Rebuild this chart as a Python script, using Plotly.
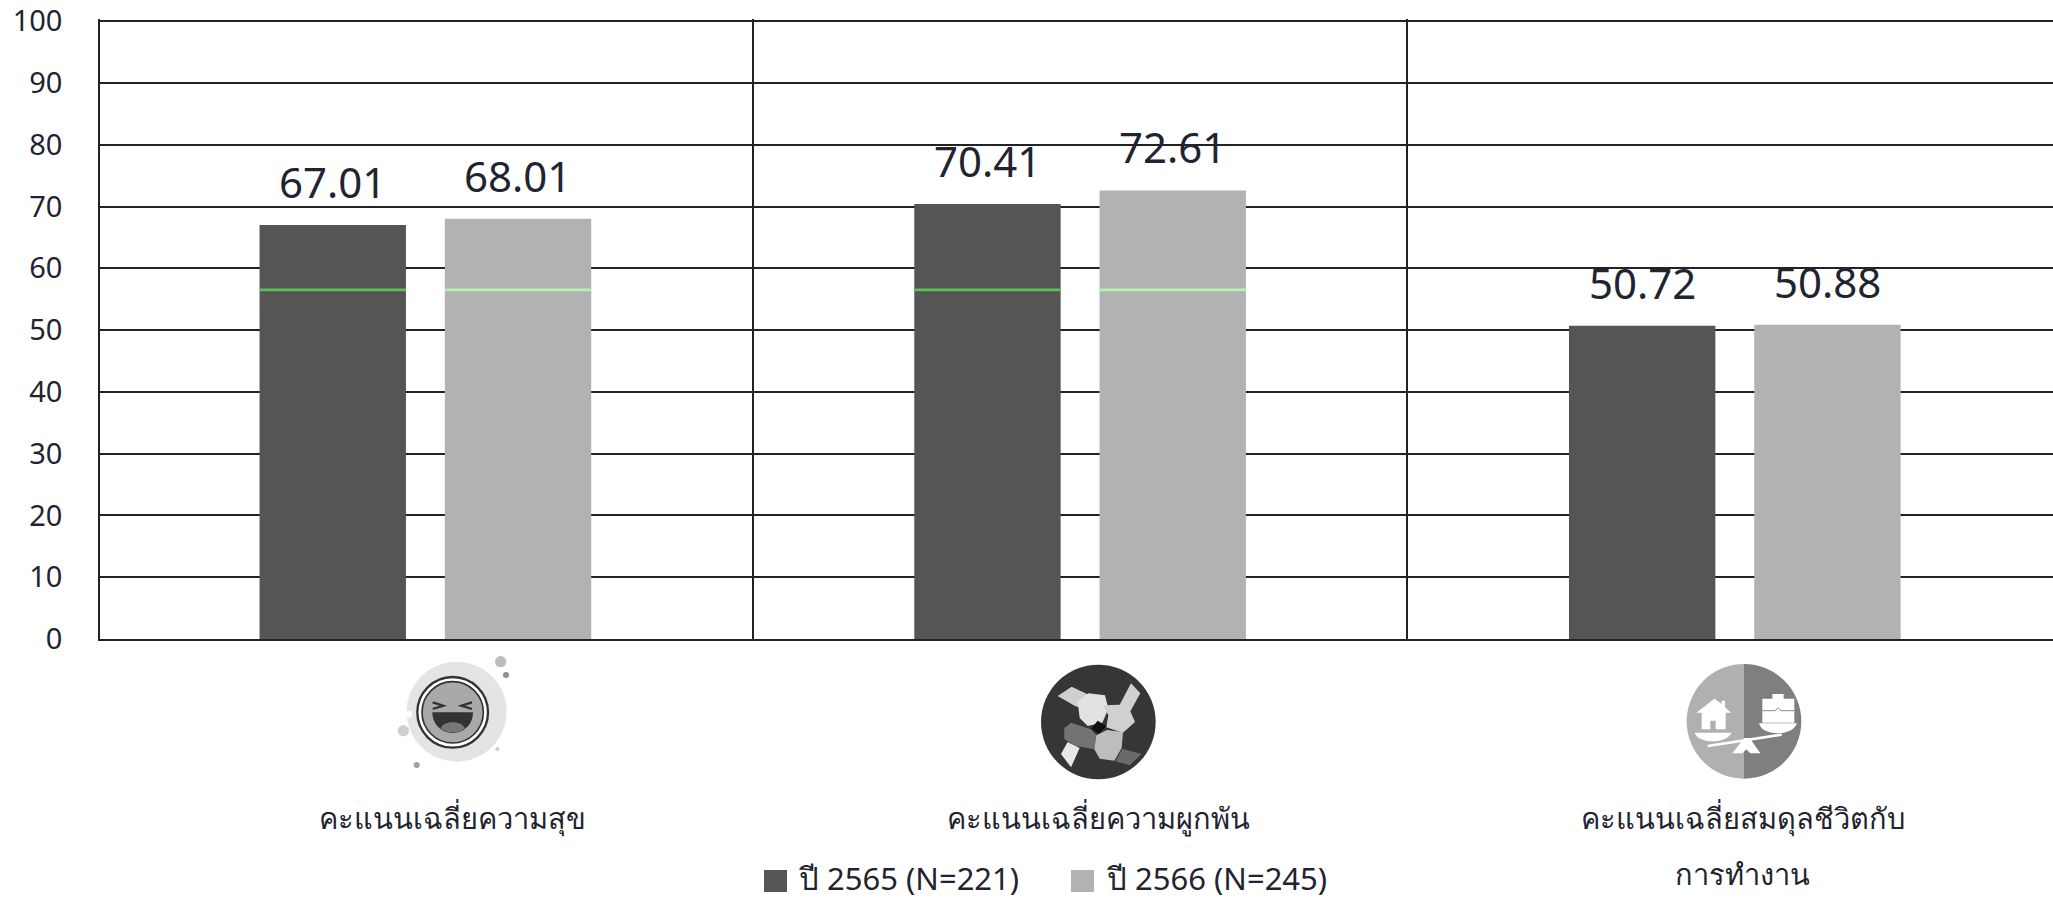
import base64
import plotly.graph_objects as go

# Survey scores by year
CATEGORIES = ["คะแนนเฉลี่ยความสุข", "คะแนนเฉลี่ยความผูกพัน", "คะแนนเฉลี่ยสมดุลชีวิตกับ"]
CATEGORY_SECOND_LINES = ["", "", "การทำงาน"]
LABEL_SHIFTS = [27, 18, 8]
SERIES_NAMES = ["ปี 2565 (N=221)", "ปี 2566 (N=245)"]
VALUES_2565 = [67.01, 70.41, 50.72]
VALUES_2566 = [68.01, 72.61, 50.88]
BENCHMARK = [56.5, 56.5, None]
Y_TICKS = [0, 10, 20, 30, 40, 50, 60, 70, 80, 90, 100]

DARK = "#555555"
LIGHT = "#b2b2b2"
INK = "#1f2430"
FONT = "Noto Sans, Tahoma, sans-serif"

# Plot frame in page pixels
W, H = 2053, 900
LEFT, TOP, BOTTOM = 100, 19, 639


def paper_x(px):
    return (px - LEFT) / (W - LEFT)


def paper_y(py):
    return (BOTTOM - py) / (BOTTOM - TOP)


def svg_uri(body, w, h):
    svg = f'<svg xmlns="http://www.w3.org/2000/svg" viewBox="0 0 {w} {h}" width="{w}" height="{h}">{body}</svg>'
    return "data:image/svg+xml;base64," + base64.b64encode(svg.encode()).decode()


LAUGH_ICON = """
<circle cx="230" cy="200" r="150" fill="#e4e4e4"/>
<circle cx="362" cy="50" r="17" fill="#bdbdbd"/><circle cx="378" cy="90" r="9" fill="#8f8f8f"/>
<circle cx="70" cy="257" r="17" fill="#cfcfcf"/><circle cx="110" cy="360" r="9" fill="#a0a0a0"/>
<circle cx="352" cy="312" r="6" fill="#cccccc"/><circle cx="85" cy="208" r="11" fill="#ffffff"/>
<circle cx="218" cy="202" r="106" fill="#ffffff" stroke="#333333" stroke-width="7"/>
<circle cx="218" cy="202" r="92" fill="#a9a9a9" stroke="#333333" stroke-width="5"/>
<path d="M158 172 L190 182 L158 192 M276 172 L244 182 L276 192" fill="none" stroke="#333333" stroke-width="7"/>
<path d="M157 202 H279 C279 240 250 264 218 264 C186 264 157 240 157 202 Z" fill="#333333"/>
<path d="M182 250 C190 226 246 226 254 250 C240 266 196 266 182 250 Z" fill="#777777"/>
"""

TEAM_ICON = """
<circle cx="202" cy="210" r="172" fill="#363636"/>
<path d="M80 132 L122 104 L176 130 L160 172 L132 162 Z" fill="#cfcfcf"/>
<path d="M140 148 L172 124 L222 130 L232 170 L214 212 L170 222 L146 198 Z" fill="#e2e2e2"/>
<path d="M216 160 L266 158 L300 94 L328 124 L298 178 L312 210 L276 242 L226 226 L232 190 Z" fill="#d0d0d0"/>
<path d="M200 206 L226 222 L204 246 L180 230 Z" fill="#111111"/>
<path d="M100 228 L120 212 L180 232 L196 250 L190 292 L136 282 L100 262 Z" fill="#737373"/>
<path d="M196 250 L228 234 L276 240 L272 288 L250 326 L206 320 L190 292 Z" fill="#bdbdbd"/>
<path d="M110 270 L146 288 L120 346 L90 306 Z" fill="#e8e8e8"/>
<path d="M274 290 L332 306 L296 340 L254 328 Z" fill="#6a6a6a"/>
"""

BALANCE_ICON = """
<clipPath id="c"><circle cx="207" cy="208" r="172"/></clipPath>
<g clip-path="url(#c)"><rect x="0" y="0" width="207" height="420" fill="#b0b0b0"/>
<rect x="207" y="0" width="213" height="420" fill="#7f7f7f"/></g>
<path d="M64 182 L118 140 L140 156 V146 H150 V166 L168 182 H152 V232 H122 V206 H106 V232 H80 V182 Z" fill="#ffffff"/>
<path d="M262 140 H292 V126 H326 V140 H358 V212 H262 Z" fill="#ffffff"/>
<path d="M262 176 H300 L310 168 L318 176 H358" fill="none" stroke="#8a8a8a" stroke-width="3"/>
<path d="M58 242 H170 C160 262 130 268 114 268 C90 268 66 260 58 242 Z" fill="#ffffff"/>
<path d="M252 214 H366 C358 236 330 244 310 244 C284 244 258 236 252 214 Z" fill="#ffffff"/>
<path d="M98 282 L320 248" stroke="#ffffff" stroke-width="8" fill="none"/>
<path d="M208 258 L224 258 L256 304 H226 L214 292 L202 304 H172 Z" fill="#ffffff"/>
"""

fig = go.Figure()

# Main bars, with a thin benchmark segment laid over each one
for name, values, colour, mark in (
    (SERIES_NAMES[0], VALUES_2565, DARK, "#55c455"),
    (SERIES_NAMES[1], VALUES_2566, LIGHT, "#aef3ae"),
):
    fig.add_bar(x=CATEGORIES, y=values, name=name, offsetgroup=name,
                marker=dict(color=colour, line=dict(width=0)), showlegend=False)
    fig.add_bar(x=CATEGORIES, y=[0.45 if b is not None else None for b in BENCHMARK],
                base=[b - 0.22 if b is not None else None for b in BENCHMARK],
                offsetgroup=name, marker=dict(color=mark, line=dict(width=0)),
                showlegend=False, hoverinfo="skip")

# Value labels above the bars
SLOT_PX = 92.5
annotations = []
for sign, values in ((-1, VALUES_2565), (1, VALUES_2566)):
    for cat, v in zip(CATEGORIES, values):
        annotations.append(dict(x=cat, y=v, text=f"{v:.2f}", showarrow=False, xshift=sign * SLOT_PX,
                                yshift=13, yanchor="bottom", font=dict(size=42, color=INK, family=FONT)))

# Category labels under the icons
for cat, line, shift in zip(CATEGORIES, CATEGORY_SECOND_LINES, LABEL_SHIFTS):
    annotations.append(dict(x=cat, xref="x", y=paper_y(818), yref="paper", yanchor="middle", xshift=shift,
                            text=cat, showarrow=False, font=dict(size=29, color=INK, family=FONT)))
    if line:
        annotations.append(dict(x=cat, xref="x", y=paper_y(873), yref="paper", yanchor="middle", xshift=shift,
                                text=line, showarrow=False, font=dict(size=29, color=INK, family=FONT)))

# Legend row
LEGEND_ROW = [(764, 796), (1071, 1104)]
shapes = []
for (sw_x, text_x), name, colour in zip(LEGEND_ROW, SERIES_NAMES, (DARK, LIGHT)):
    shapes.append(dict(type="rect", xref="paper", yref="paper", x0=paper_x(sw_x), x1=paper_x(sw_x + 23),
                       y0=paper_y(870), y1=paper_y(892), fillcolor=colour, line=dict(width=0)))
    annotations.append(dict(x=paper_x(text_x), y=paper_y(878), xref="paper", yref="paper", yanchor="middle",
                            text=name, showarrow=False, xanchor="left",
                            font=dict(size=31, color=INK, family=FONT)))

# Category icons
images = []
for body, px, py, w, h in ((LAUGH_ICON, 380, 645, 450, 420), (TEAM_ICON, 1031, 652, 420, 420),
                           (BALANCE_ICON, 1675, 652, 420, 420)):
    images.append(dict(source=svg_uri(body, w, h), xref="paper", yref="paper", x=paper_x(px), y=paper_y(py),
                       sizex=(w / 3) / (W - LEFT), sizey=(h / 3) / (BOTTOM - TOP),
                       xanchor="left", yanchor="top", sizing="stretch", layer="above"))

fig.update_layout(
    width=W, height=H, autosize=False,
    margin=dict(l=LEFT, r=0, t=TOP, b=H - BOTTOM, autoexpand=False),
    paper_bgcolor="white", plot_bgcolor="white",
    barmode="group", bargap=0.434, bargroupgap=0.21,
    showlegend=False, annotations=annotations, shapes=shapes, images=images,
    font=dict(family=FONT, color=INK),
)
fig.update_xaxes(type="category", categoryorder="array", categoryarray=CATEGORIES,
                 range=[-0.497, 2.486], tickson="boundaries", showgrid=True, gridcolor="#222222", gridwidth=1.6,
                 showline=True, linecolor="#222222", linewidth=1.5, ticks="", showticklabels=False, zeroline=False)
fig.update_yaxes(range=[0, 100.35], tickvals=Y_TICKS, showgrid=True, gridcolor="#222222", gridwidth=1.5,
                 showline=True, linecolor="#222222", linewidth=1.5, ticks="", ticklabelstandoff=30,
                 ticklabeloverflow="allow", tickfont=dict(size=29, color=INK, family=FONT), zeroline=False)

fig.write_html("out.html")
